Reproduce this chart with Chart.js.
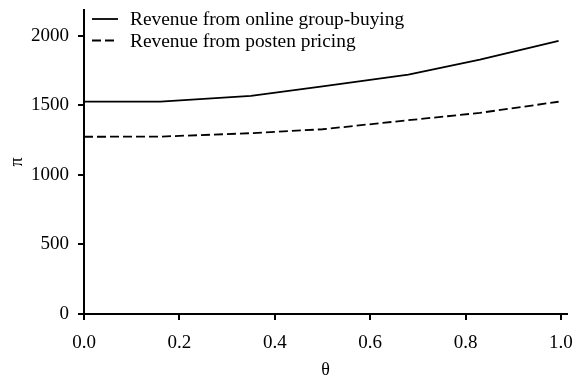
<!DOCTYPE html>
<html>
<head>
<meta charset="utf-8">
<script src="https://cdn.jsdelivr.net/npm/chart.js@4.4.1/dist/chart.umd.min.js"></script>
<style>
  html, body { margin: 0; padding: 0; background: #fff; }
  #wrap { width: 577px; height: 379px; position: relative; }
</style>
</head>
<body>
<div id="wrap"><canvas id="c" width="577" height="379"></canvas></div>
<script>
// θ values at which both revenues are sampled
const theta = [0, 0.16, 0.35, 0.5, 0.68, 0.83, 0.995];
// Revenue from online group-buying
const revenueGroupBuying = [1528, 1528, 1569, 1638, 1722, 1830, 1964];
// Revenue from posted pricing
const revenuePosted = [1275, 1276, 1301, 1329, 1394, 1447, 1527];
// Axis tick values
const xTicks = [0, 0.2, 0.4, 0.6, 0.8, 1.0];
const yTicks = [0, 500, 1000, 1500, 2000];
const legendLabels = ['Revenue from online group-buying', 'Revenue from posten pricing'];

const SERIF = '"Liberation Serif", "Times New Roman", serif';
const DASH = [9, 4];

const toPoints = vals => theta.map((t, i) => ({ x: t, y: vals[i] }));

// Legend drawn inside the plot, at its top-left corner
const innerLegend = {
  id: 'innerLegend',
  afterDraw(chart) {
    const ctx = chart.ctx;
    const a = chart.chartArea;
    const rows = [
      { label: legendLabels[0], dash: [] },
      { label: legendLabels[1], dash: DASH }
    ];
    ctx.save();
    ctx.font = '19.4px ' + SERIF;
    ctx.fillStyle = '#000';
    ctx.strokeStyle = '#000';
    ctx.lineWidth = 1.8;
    ctx.textBaseline = 'middle';
    rows.forEach((r, i) => {
      const y = a.top + 9 + i * 21.5;
      ctx.setLineDash(r.dash);
      ctx.beginPath();
      ctx.moveTo(a.left + 8, y);
      ctx.lineTo(a.left + 34, y);
      ctx.stroke();
      ctx.setLineDash([]);
      ctx.fillText(r.label, a.left + 46, y + 1);
    });
    ctx.restore();
  }
};

new Chart(document.getElementById('c'), {
  type: 'line',
  data: {
    datasets: [
      {
        label: legendLabels[0],
        data: toPoints(revenueGroupBuying),
        borderColor: '#000',
        borderWidth: 1.8,
        pointRadius: 0,
        fill: false,
        tension: 0
      },
      {
        label: legendLabels[1],
        data: toPoints(revenuePosted),
        borderColor: '#000',
        borderWidth: 1.8,
        borderDash: DASH,
        pointRadius: 0,
        fill: false,
        tension: 0
      }
    ]
  },
  options: {
    responsive: false,
    animation: false,
    layout: { padding: { top: 10, right: 10, left: 0, bottom: 0 } },
    plugins: { legend: { display: false }, tooltip: { enabled: false } },
    scales: {
      x: {
        type: 'linear',
        min: 0,
        max: 1.0126,
        afterBuildTicks: s => { s.ticks = xTicks.map(v => ({ value: v })); },
        afterFit: s => { s.height = 65; s.paddingLeft = 0; s.paddingRight = 0; },
        border: { display: true, color: '#000', width: 2 },
        grid: { drawOnChartArea: false, drawTicks: true, tickLength: 6, color: '#000', lineWidth: 2 },
        ticks: {
          color: '#000',
          font: { family: SERIF, size: 19 },
          padding: 12,
          maxRotation: 0,
          callback: v => Number(v).toFixed(1)
        },
        title: {
          display: true,
          text: 'θ',
          color: '#000',
          font: { family: SERIF, size: 18, lineHeight: 1 },
          padding: { top: 0, bottom: 0 }
        }
      },
      y: {
        type: 'linear',
        min: 0,
        max: 2187,
        afterBuildTicks: s => { s.ticks = yTicks.map(v => ({ value: v })); },
        afterFit: s => { s.width = 84; s.paddingTop = 0; s.paddingBottom = 0; },
        border: { display: true, color: '#000', width: 2 },
        grid: { drawOnChartArea: false, drawTicks: true, tickLength: 6, color: '#000', lineWidth: 2 },
        ticks: {
          color: '#000',
          font: { family: SERIF, size: 19 },
          padding: 9,
          callback: v => String(v)
        },
        title: {
          display: true,
          text: 'π',
          color: '#000',
          font: { family: SERIF, size: 18, lineHeight: 1 },
          padding: { top: 8, bottom: 0 }
        }
      }
    }
  },
  plugins: [innerLegend]
});
</script>
</body>
</html>
